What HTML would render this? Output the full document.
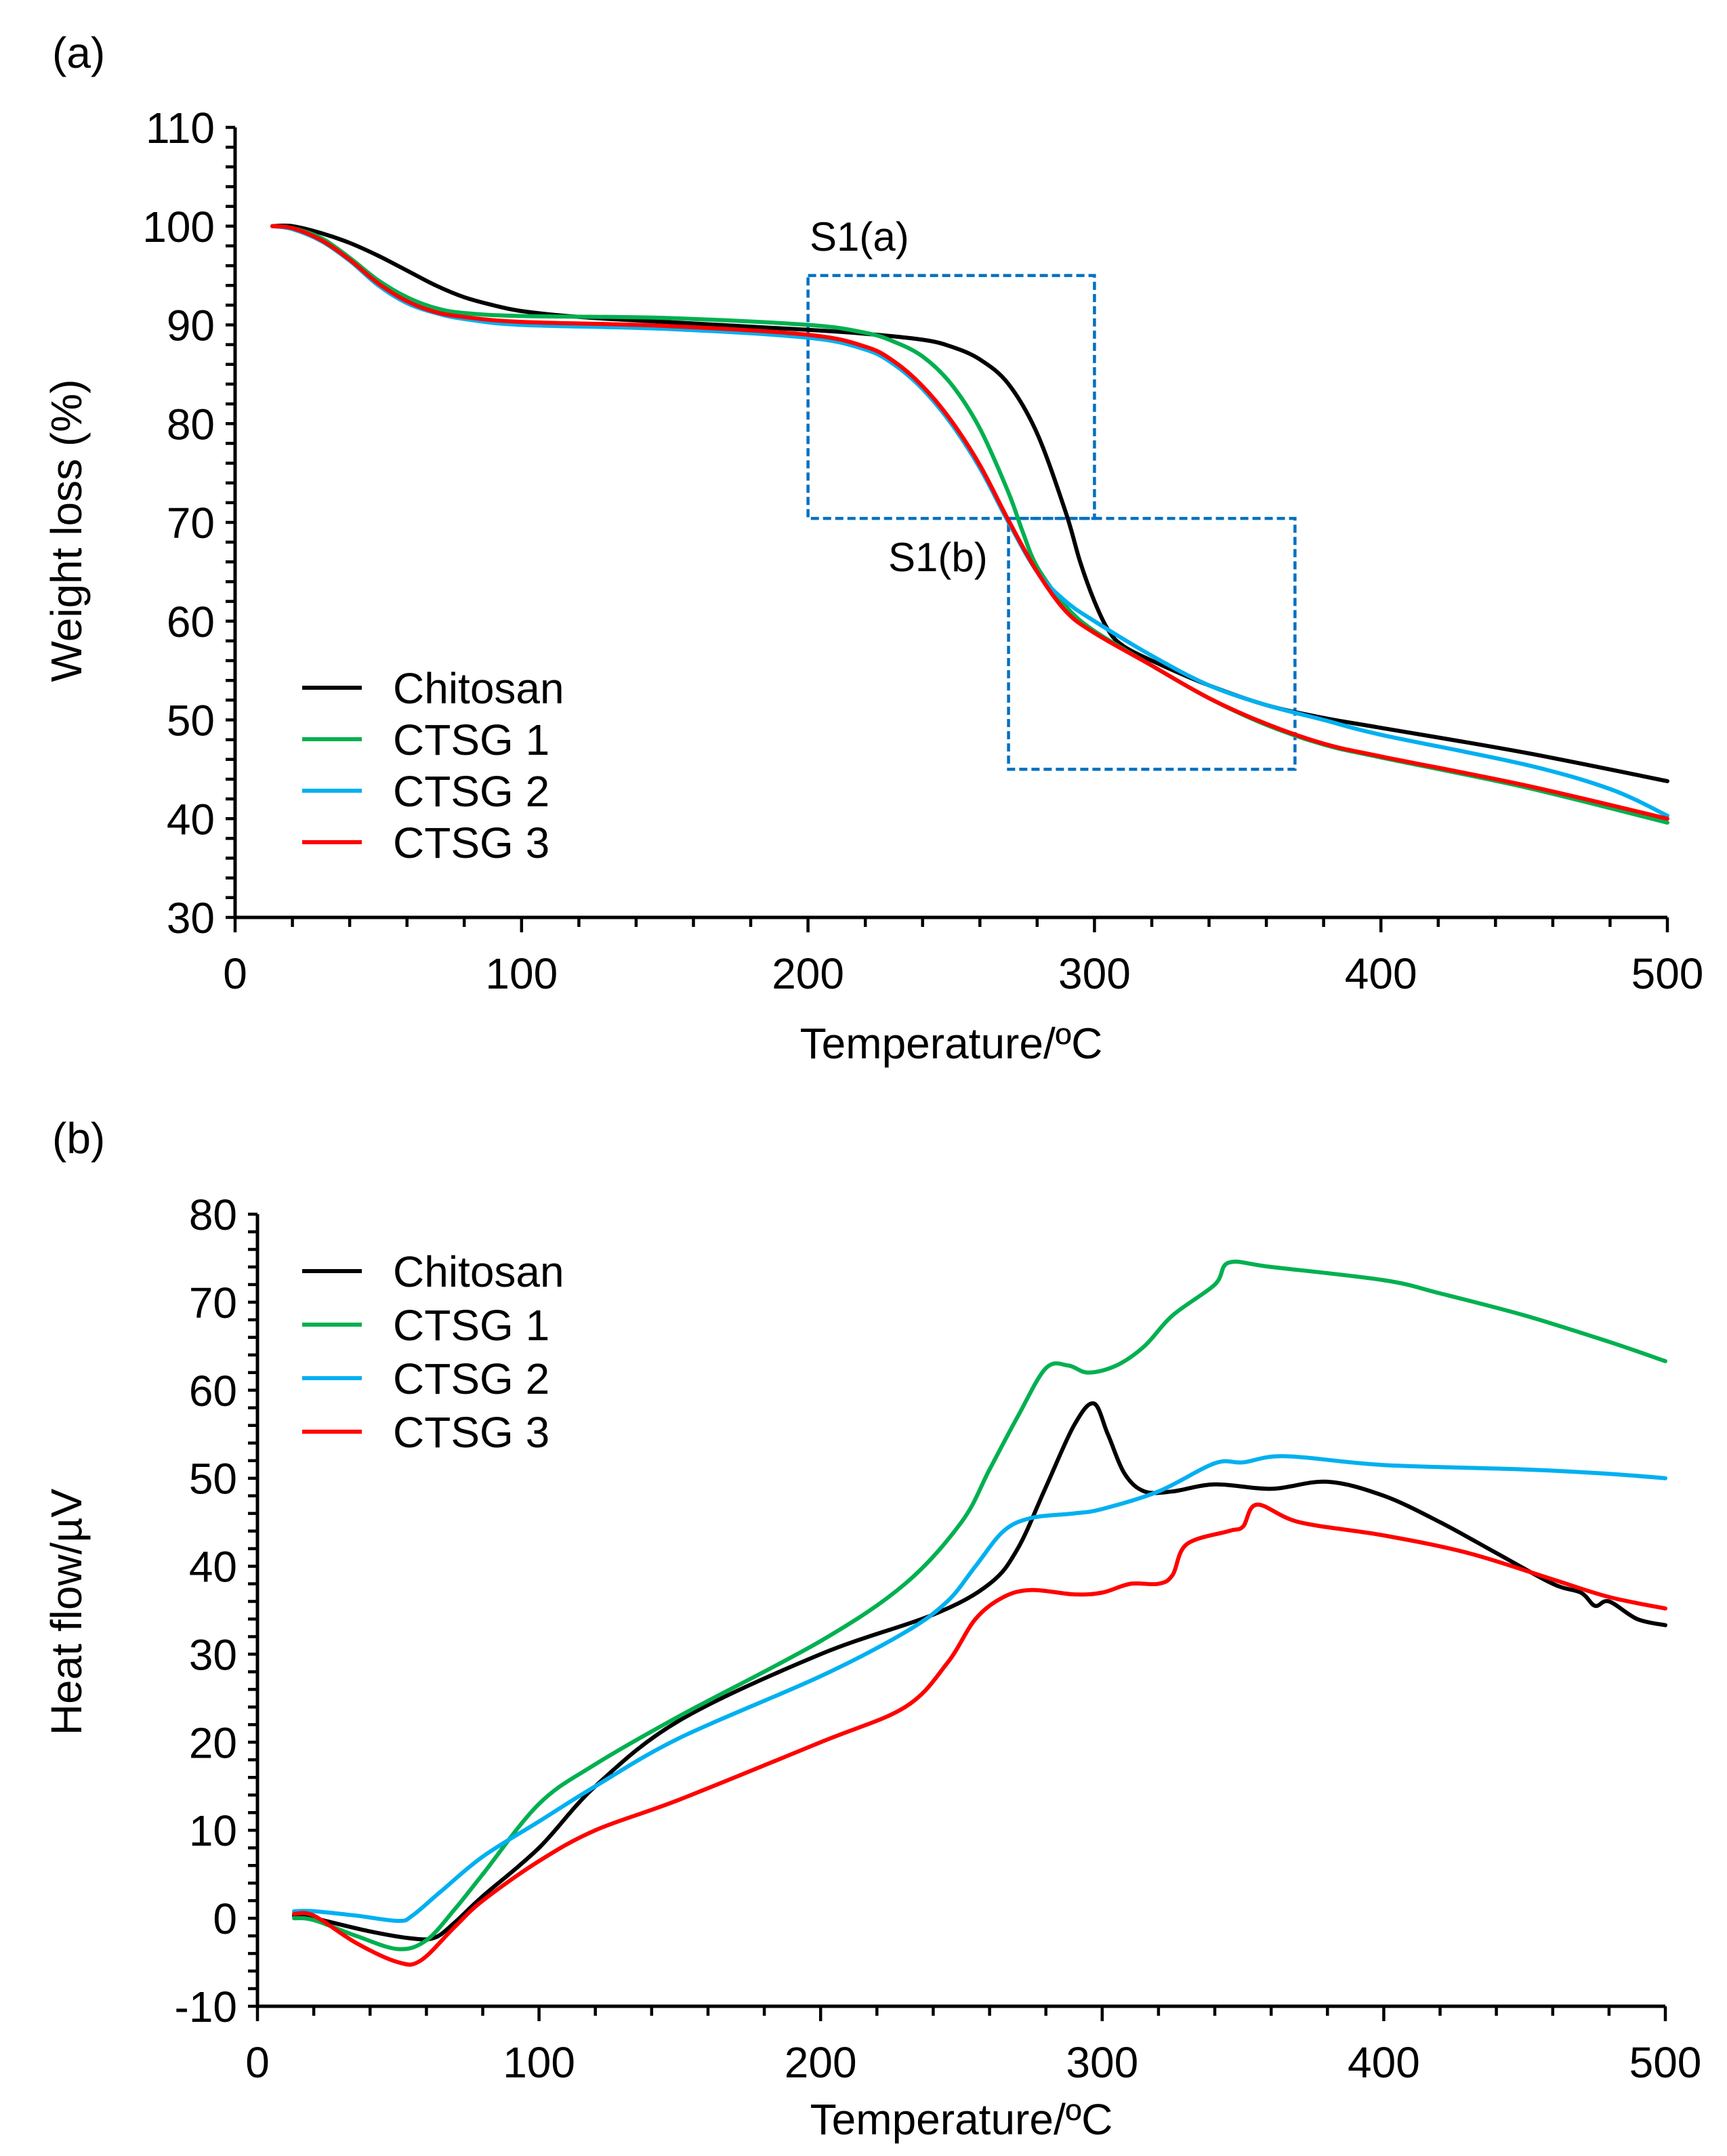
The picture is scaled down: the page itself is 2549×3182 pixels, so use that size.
<!DOCTYPE html>
<html><head><meta charset="utf-8"><style>
html,body{margin:0;padding:0;background:#fff;}
svg{display:block;font-family:"Liberation Sans",Arial,sans-serif;}
</style></head><body>
<svg id="fig" width="2549" height="3182" viewBox="0 0 2549 3182" xmlns="http://www.w3.org/2000/svg">
<rect width="2549" height="3182" fill="#fff"/>
<g id="pa"></g>
<g id="pb"></g>
</svg>
<script>
// ---------- Panel (a) data ----------
const seriesNames = ["Chitosan","CTSG 1","CTSG 2","CTSG 3"];
const seriesColors = ["#000000","#00b050","#00b0f0","#ff0000"];
const xTicks = [0,100,200,300,400,500];
const aYTicks = [30,40,50,60,70,80,90,100,110];
const aChitosanT = [13,20,30,40,50,60,70,80,90,100,120,150,200,220,240,250,260,270,280,290,295,300,305,310,320,340,360,380,400,450,500];
const aChitosanV = [100,100,99.3,98.3,97,95.5,94,92.8,92,91.4,90.8,90.3,89.5,89.1,88.5,87.8,86.5,84,79,71,66,62,59,57.5,56,53.5,51.5,50.2,49.2,46.7,43.8];
const aCtsg1T = [13,20,30,40,50,60,70,80,100,150,200,220,230,240,250,260,270,275,280,290,300,320,340,360,380,400,450,500];
const aCtsg1V = [100,99.8,98.8,96.8,94.5,92.8,91.7,91.2,90.9,90.7,90,89.2,88.3,86.8,84,79.5,73,69,65.5,61.5,59,55.5,52.2,49.5,47.5,46.2,43.2,39.6];
const aCtsg2T = [13,20,30,40,50,60,70,80,100,150,200,220,230,240,250,260,270,280,290,300,320,340,360,380,400,450,480,500];
const aCtsg2V = [100,99.7,98.5,96.5,94,92.2,91.2,90.6,90,89.6,88.7,87.5,86,83.5,80,75.5,70,65,62,60,56.5,53.5,51.5,50,48.5,45.5,43,40.3];
const aCtsg3T = [13,20,30,40,50,60,70,80,100,150,200,220,230,240,250,260,270,280,290,300,320,340,360,380,400,450,500];
const aCtsg3V = [100,99.8,98.6,96.6,94.2,92.4,91.3,90.8,90.3,89.9,89,87.8,86.3,83.8,80.3,75.8,70.2,65,61,58.8,55.5,52.2,49.6,47.6,46.3,43.4,40];
const boxA = [200,300,70.4,95];
const boxB = [270,370,45,70.4];
// ---------- Panel (b) data ----------
const bYTicks = [-10,0,10,20,30,40,50,60,70,80];
const bChitosanT = [13,20,40,55,63,70,80,100,120,150,200,240,260,270,280,290,297,302,308,315,325,340,360,380,400,420,440,460,470,475,480,490,500];
const bChitosanV = [0.3,0,-1.5,-2.3,-2.2,-0.5,2.5,8,15,22.5,30,34.5,38,42,49,56,58.5,55,50.5,48.5,48.5,49.3,48.8,49.6,48,45,41.5,38,37,35.5,36,34,33.3];
const bCtsg1T = [13,20,35,50,60,70,80,100,120,150,200,230,250,260,270,280,288,295,305,315,325,340,345,360,400,420,450,480,500];
const bCtsg1V = [0,-0.2,-2,-3.5,-2.5,1,5,13,17.5,23,31.5,38,45,51,57,62.5,62.8,62,62.8,65,68.5,72,74.5,74,72.5,71,68.5,65.5,63.3];
const bCtsg2T = [13,20,35,50,55,65,80,100,120,150,200,230,245,255,265,275,290,300,320,340,350,365,400,450,480,500];
const bCtsg2V = [0.8,0.8,0.3,-0.3,0.3,3,7,11,15,20.5,27.5,32.5,36,40,44,45.5,46,46.5,48.5,51.7,51.8,52.5,51.5,51,50.5,50];
const bCtsg3T = [13,20,35,50,58,70,80,100,120,150,200,230,245,255,265,275,290,300,310,320,325,330,345,350,355,370,400,430,460,480,500];
const bCtsg3V = [0.5,0.3,-2.8,-5,-4.8,-1,2,6.5,10,13.5,20,24,29,34,36.5,37.3,36.8,37,38,38,39,42.5,44,44.5,47,45,43.5,41.5,38.5,36.5,35.2];

const NS="http://www.w3.org/2000/svg";
function mk(parent,tag,attrs,text){const e=document.createElementNS(NS,tag);for(const k in attrs)e.setAttribute(k,attrs[k]);if(text!==undefined)e.textContent=text;parent.appendChild(e);return e;}

function smoothPath(P){
  let d=`M${P[0][0].toFixed(1)},${P[0][1].toFixed(1)}`;
  for(let i=0;i<P.length-1;i++){
    const p0=P[Math.max(0,i-1)],p1=P[i],p2=P[i+1],p3=P[Math.min(P.length-1,i+2)];
    const c1=[p1[0]+(p2[0]-p0[0])/6,p1[1]+(p2[1]-p0[1])/6];
    const c2=[p2[0]-(p3[0]-p1[0])/6,p2[1]-(p3[1]-p1[1])/6];
    d+=`C${c1[0].toFixed(1)},${c1[1].toFixed(1)} ${c2[0].toFixed(1)},${c2[1].toFixed(1)} ${p2[0].toFixed(1)},${p2[1].toFixed(1)}`;
  }
  return d;
}

function panel(g,cfg){
  const sx=v=>cfg.x0+(v-0)/500*(cfg.x1-cfg.x0);
  const sy=v=>cfg.yb+(v-cfg.ymin)/(cfg.ymax-cfg.ymin)*(cfg.yt-cfg.yb);
  (cfg.boxes||[]).forEach((b,i)=>{
    const r=mk(g,'rect',{x:sx(b[0]),y:sy(b[3]),width:sx(b[1])-sx(b[0]),height:sy(b[2])-sy(b[3]),fill:'none',stroke:'#0070c0','stroke-width':4.5,'stroke-dasharray':'12,6'});
    
    
  });
  cfg.series.forEach((s,i)=>{
    const P=s[0].map((t,j)=>[sx(t),sy(s[1][j])]);
    const p=mk(g,'path',{d:smoothPath(P),fill:'none',stroke:seriesColors[i],'stroke-width':6,'stroke-linejoin':'round','stroke-linecap':'round'});
    
    
  });
  const ax=mk(g,'path',{d:`M${cfg.x0},${cfg.yt} V${cfg.yb} H${cfg.x1}`,fill:'none',stroke:'#000','stroke-width':5});
  
  
  let d='';
  for(let v=cfg.ymin;v<=cfg.ymax+1e-9;v+=2){const y=sy(v);d+=`M${cfg.x0-14},${y.toFixed(1)}H${cfg.x0}`;}
  for(let v=0;v<=500;v+=20){const x=sx(v);const L=(v%100===0)?22:14;d+=`M${x.toFixed(1)},${cfg.yb}V${cfg.yb+L}`;}
  const tk=mk(g,'path',{d:d,stroke:'#000','stroke-width':4.5,fill:'none'});
  
  
  cfg.yTicks.forEach(v=>{
    const t=mk(g,'text',{x:cfg.x0-30,y:sy(v)+23,'font-size':64,'text-anchor':'end'},String(v));
    
    
  });
  xTicks.forEach(v=>{
    const t=mk(g,'text',{x:sx(v),y:cfg.yb+105,'font-size':64,'text-anchor':'middle'},String(v));
    
    
  });
  const xt=mk(g,'text',{x:(cfg.x0+cfg.x1)/2,y:cfg.xTitleY,'font-size':64,'text-anchor':'middle'},'Temperature/ºC');
  
  
  const yt=mk(g,'text',{x:0,y:0,'font-size':64,'text-anchor':'middle',transform:`translate(120,${cfg.yTitleY}) rotate(-90)`},cfg.yTitle);
  
  
  const pl=mk(g,'text',{x:77,y:cfg.labelY,'font-size':64},cfg.label);
  
  
  seriesNames.forEach((n,i)=>{
    const y=cfg.legY+i*cfg.legDy;
    const l=mk(g,'line',{x1:446,x2:534,y1:y,y2:y,stroke:seriesColors[i],'stroke-width':6});
    
    
    const t=mk(g,'text',{x:580,y:y+23,'font-size':64},n);
    
    
  });
  (cfg.notes||[]).forEach(nt=>{
    const t=mk(g,'text',{x:nt[0],y:nt[1],'font-size':60},nt[2]);
    
    
  });
}

panel(document.getElementById('pa'),{x0:347,x1:2461,yt:188,yb:1354,ymin:30,ymax:110,yTicks:aYTicks,
  series:[[aChitosanT,aChitosanV],[aCtsg1T,aCtsg1V],[aCtsg2T,aCtsg2V],[aCtsg3T,aCtsg3V]],
  boxes:[boxA,boxB],notes:[[1195,370,'S1(a)'],[1311,843,'S1(b)']],
  xTitleY:1562,yTitle:'Weight loss (%)',yTitleY:783,label:'(a)',labelY:100,legY:1015,legDy:76});
panel(document.getElementById('pb'),{x0:380,x1:2458,yt:1792,yb:2961,ymin:-10,ymax:80,yTicks:bYTicks,
  series:[[bChitosanT,bChitosanV],[bCtsg1T,bCtsg1V],[bCtsg2T,bCtsg2V],[bCtsg3T,bCtsg3V]],
  xTitleY:3150,yTitle:'Heat flow/µV',yTitleY:2379,label:'(b)',labelY:1702,legY:1876,legDy:79});
</script>
</body></html>
